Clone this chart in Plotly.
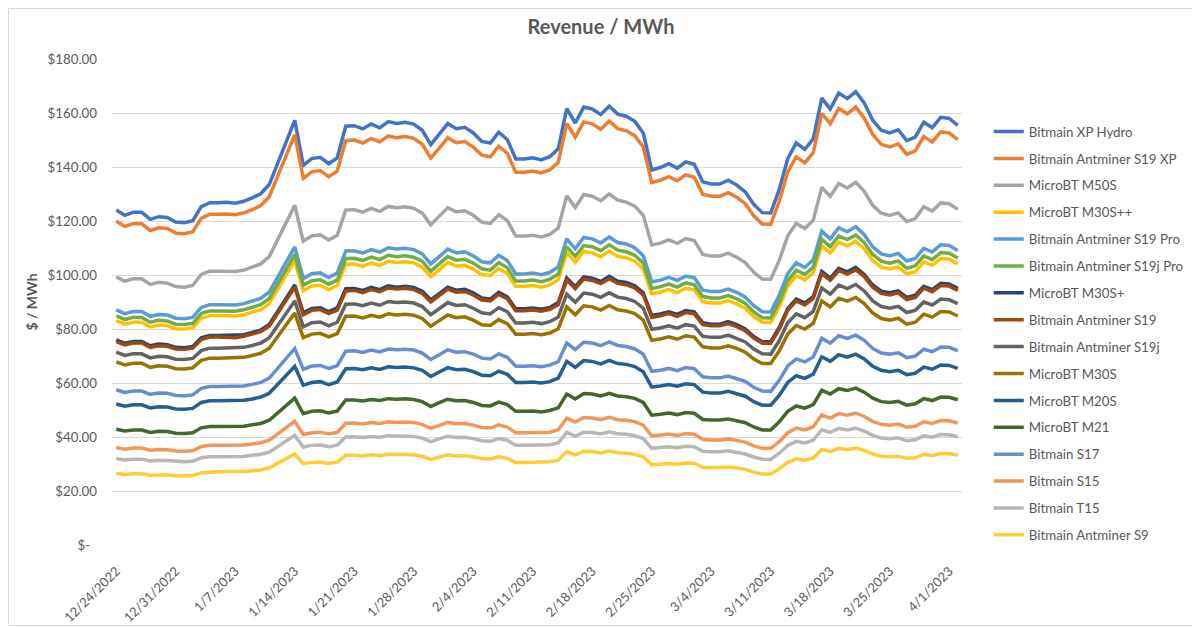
import plotly.graph_objects as go
import pandas as pd

dates = pd.date_range("2022-12-24", "2023-04-02", freq="D")

names = [
    "Bitmain XP Hydro", "Bitmain Antminer S19 XP", "MicroBT M50S", "MicroBT M30S++",
    "Bitmain Antminer S19 Pro", "Bitmain Antminer S19j Pro", "MicroBT M30S+",
    "Bitmain Antminer S19", "Bitmain Antminer S19j", "MicroBT M30S", "MicroBT M20S",
    "MicroBT M21", "Bitmain S17", "Bitmain S15", "Bitmain T15", "Bitmain Antminer S9",
]

xp_hydro = [124.1,122.1,123.2,123.2,120.6,121.6,121.3,119.6,119.4,120.1,
            125.3,126.8,126.8,126.9,126.6,127.3,128.6,130.1,133.5,141.4,
            149.4,157.3,140.6,143.1,143.6,141.2,143.4,155.1,155.3,154.1,
            155.9,154.5,156.8,156.1,156.6,155.9,153.6,148.3,152.2,156.1,
            154.2,154.7,152.6,149.5,148.9,152.9,150.2,143.0,143.0,143.4,
            142.6,143.8,146.7,161.6,156.3,162.2,161.5,159.4,162.5,159.6,
            158.8,156.9,152.6,138.9,139.8,141.2,139.6,141.9,141.0,134.5,
            133.7,133.7,135.1,133.3,130.8,126.2,123.1,123.0,131.7,143.1,
            148.9,146.5,150.4,165.5,161.5,167.4,165.3,167.9,163.7,157.3,
            153.6,152.6,153.8,149.8,151.1,156.6,154.6,158.4,158.0,155.4]

s19_xp = [119.9,118.0,119.0,119.0,116.5,117.5,117.2,115.5,115.3,116.0,
          121.0,122.5,122.5,122.6,122.3,123.0,124.2,125.7,129.0,136.6,
          144.3,152.0,135.8,138.2,138.7,136.4,138.5,149.8,150.0,148.9,
          150.6,149.3,151.5,150.8,151.3,150.6,148.4,143.3,147.0,150.8,
          149.0,149.4,147.4,144.4,143.8,147.7,145.1,138.1,138.1,138.5,
          137.8,138.9,141.7,156.1,151.0,156.7,156.0,154.0,157.0,154.2,
          153.4,151.6,147.4,134.2,135.1,136.4,134.9,137.1,136.2,129.9,
          129.2,129.2,130.5,128.8,126.4,121.9,118.9,118.8,127.2,138.2,
          143.8,141.5,145.3,159.9,156.0,161.7,159.7,162.2,158.1,152.0,
          148.4,147.4,148.6,144.7,146.0,151.3,149.3,153.0,152.6,150.1]

m50s = [99.3,97.7,98.6,98.6,96.5,97.3,97.0,95.7,95.5,96.1,
        100.2,101.4,101.4,101.5,101.3,101.8,102.9,104.1,106.8,113.1,
        119.5,125.8,112.5,114.5,114.9,113.0,114.7,124.1,124.2,123.3,
        124.7,123.6,125.4,124.9,125.3,124.7,122.9,118.6,121.8,124.9,
        123.4,123.8,122.1,119.6,119.1,122.3,120.2,114.4,114.4,114.7,
        114.1,115.0,117.4,129.3,125.0,129.8,129.2,127.5,130.0,127.7,
        127.0,125.5,122.1,111.1,111.8,113.0,111.7,113.5,112.8,107.6,
        107.0,107.0,108.1,106.6,104.6,101.0,98.5,98.4,105.4,114.5,
        119.1,117.2,120.3,132.4,129.2,133.9,132.2,134.3,131.0,125.8,
        122.9,122.1,123.0,119.8,120.9,125.3,123.7,126.7,126.4,124.3]

m30s_pp = [83.1,81.8,82.5,82.5,80.8,81.5,81.3,80.1,80.0,80.5,
           84.0,85.0,85.0,85.0,84.8,85.3,86.2,87.2,89.4,94.7,
           100.1,105.4,94.2,95.9,96.2,94.6,96.1,103.9,104.1,103.2,
           104.5,103.5,105.1,104.6,104.9,104.5,102.9,99.4,102.0,104.6,
           103.3,103.6,102.2,100.2,99.8,102.4,100.6,95.8,95.8,96.1,
           95.5,96.3,98.3,108.3,104.7,108.7,108.2,106.8,108.9,106.9,
           106.4,105.1,102.2,93.1,93.7,94.6,93.5,95.1,94.5,90.1,
           89.6,89.6,90.5,89.3,87.6,84.6,82.5,82.4,88.2,95.9,
           99.8,98.2,100.8,110.9,108.2,112.2,110.8,112.5,109.7,105.4,
           102.9,102.2,103.0,100.4,101.2,104.9,103.6,106.1,105.9,104.1]

s19_pro = [87.1,85.7,86.5,86.5,84.7,85.4,85.2,84.0,83.8,84.3,
           88.0,89.0,89.0,89.1,88.9,89.4,90.3,91.3,93.7,99.3,
           104.9,110.4,98.7,100.5,100.8,99.1,100.7,108.9,109.0,108.2,
           109.4,108.5,110.1,109.6,109.9,109.4,107.8,104.1,106.8,109.6,
           108.2,108.6,107.1,104.9,104.5,107.3,105.4,100.4,100.4,100.7,
           100.1,100.9,103.0,113.4,109.7,113.9,113.4,111.9,114.1,112.0,
           111.5,110.1,107.1,97.5,98.1,99.1,98.0,99.6,99.0,94.4,
           93.9,93.9,94.8,93.6,91.8,88.6,86.4,86.3,92.5,100.5,
           104.5,102.8,105.6,116.2,113.4,117.5,116.0,117.9,114.9,110.4,
           107.8,107.1,108.0,105.2,106.1,109.9,108.5,111.2,110.9,109.1]

s19j_pro = [84.9,83.5,84.3,84.3,82.5,83.2,83.0,81.8,81.7,82.1,
            85.7,86.7,86.7,86.8,86.6,87.1,88.0,89.0,91.3,96.7,
            102.2,107.6,96.2,97.9,98.2,96.6,98.1,106.1,106.2,105.4,
            106.6,105.7,107.3,106.8,107.1,106.6,105.1,101.4,104.1,106.8,
            105.5,105.8,104.4,102.3,101.8,104.6,102.7,97.8,97.8,98.1,
            97.5,98.4,100.3,110.5,106.9,110.9,110.5,109.0,111.2,109.2,
            108.6,107.3,104.4,95.0,95.6,96.6,95.5,97.1,96.4,92.0,
            91.5,91.5,92.4,91.2,89.5,86.3,84.2,84.1,90.1,97.9,
            101.8,100.2,102.9,113.2,110.5,114.5,113.1,114.8,112.0,107.6,
            105.1,104.4,105.2,102.5,103.4,107.1,105.7,108.3,108.1,106.3]

m30s_p = [76.0,74.7,75.4,75.4,73.8,74.4,74.2,73.2,73.1,73.5,
          76.7,77.6,77.6,77.7,77.5,77.9,78.7,79.6,81.7,86.5,
          91.4,96.3,86.0,87.6,87.9,86.4,87.8,94.9,95.0,94.3,
          95.4,94.6,96.0,95.5,95.8,95.4,94.0,90.8,93.1,95.5,
          94.4,94.7,93.4,91.5,91.1,93.6,91.9,87.5,87.5,87.8,
          87.3,88.0,89.8,98.9,95.7,99.3,98.8,97.6,99.5,97.7,
          97.2,96.0,93.4,85.0,85.6,86.4,85.4,86.8,86.3,82.3,
          81.8,81.8,82.7,81.6,80.0,77.2,75.3,75.3,80.6,87.6,
          91.1,89.7,92.0,101.3,98.8,102.5,101.2,102.8,100.2,96.3,
          94.0,93.4,94.1,91.7,92.5,95.8,94.6,96.9,96.7,95.1]

s19 = [75.3,74.1,74.8,74.8,73.2,73.8,73.6,72.6,72.5,72.9,
       76.1,77.0,77.0,77.0,76.8,77.3,78.1,79.0,81.0,85.8,
       90.7,95.5,85.3,86.9,87.2,85.7,87.0,94.1,94.3,93.5,
       94.6,93.8,95.2,94.8,95.1,94.6,93.2,90.0,92.4,94.8,
       93.6,93.9,92.6,90.7,90.4,92.8,91.2,86.8,86.8,87.0,
       86.6,87.3,89.0,98.1,94.9,98.5,98.0,96.8,98.6,96.9,
       96.4,95.2,92.6,84.3,84.9,85.7,84.7,86.1,85.6,81.6,
       81.2,81.2,82.0,80.9,79.4,76.6,74.7,74.7,79.9,86.9,
       90.4,88.9,91.3,100.5,98.0,101.6,100.3,101.9,99.4,95.5,
       93.2,92.6,93.4,90.9,91.7,95.1,93.8,96.1,95.9,94.3]

s19j = [71.4,70.2,70.8,70.8,69.3,69.9,69.7,68.8,68.7,69.1,
        72.0,72.9,72.9,73.0,72.8,73.2,73.9,74.8,76.8,81.3,
        85.9,90.4,80.8,82.3,82.6,81.2,82.5,89.2,89.3,88.6,
        89.6,88.8,90.2,89.8,90.0,89.6,88.3,85.3,87.5,89.8,
        88.7,89.0,87.7,86.0,85.6,87.9,86.4,82.2,82.2,82.5,
        82.0,82.7,84.4,92.9,89.9,93.3,92.9,91.7,93.4,91.8,
        91.3,90.2,87.7,79.9,80.4,81.2,80.3,81.6,81.1,77.3,
        76.9,76.9,77.7,76.6,75.2,72.6,70.8,70.7,75.7,82.3,
        85.6,84.2,86.5,95.2,92.9,96.3,95.0,96.5,94.1,90.4,
        88.3,87.7,88.4,86.1,86.9,90.0,88.9,91.1,90.8,89.4]

m30s = [67.8,66.7,67.3,67.3,65.8,66.4,66.2,65.3,65.2,65.6,
        68.4,69.2,69.2,69.3,69.1,69.5,70.2,71.0,72.9,77.2,
        81.6,85.9,76.8,78.1,78.4,77.1,78.3,84.7,84.8,84.1,
        85.1,84.4,85.6,85.2,85.5,85.1,83.9,81.0,83.1,85.2,
        84.2,84.5,83.3,81.6,81.3,83.5,82.0,78.1,78.1,78.3,
        77.9,78.5,80.1,88.2,85.3,88.6,88.2,87.0,88.7,87.1,
        86.7,85.7,83.3,75.8,76.3,77.1,76.2,77.5,77.0,73.4,
        73.0,73.0,73.8,72.8,71.4,68.9,67.2,67.2,71.9,78.1,
        81.3,80.0,82.1,90.4,88.2,91.4,90.3,91.7,89.4,85.9,
        83.9,83.3,84.0,81.8,82.5,85.5,84.4,86.5,86.3,84.8]

m20s = [52.2,51.4,51.9,51.9,50.8,51.2,51.1,50.4,50.3,50.6,
        52.8,53.4,53.4,53.4,53.3,53.6,54.1,54.8,56.2,59.5,
        62.9,66.2,59.2,60.2,60.5,59.4,60.4,65.3,65.4,64.9,
        65.6,65.0,66.0,65.7,65.9,65.6,64.7,62.4,64.1,65.7,
        64.9,65.1,64.2,62.9,62.7,64.4,63.2,60.2,60.2,60.4,
        60.0,60.5,61.8,68.0,65.8,68.3,68.0,67.1,68.4,67.2,
        66.9,66.1,64.2,58.5,58.9,59.4,58.8,59.7,59.4,56.6,
        56.3,56.3,56.9,56.1,55.1,53.1,51.8,51.8,55.4,60.2,
        62.7,61.7,63.3,69.7,68.0,70.5,69.6,70.7,68.9,66.2,
        64.7,64.2,64.7,63.1,63.6,65.9,65.1,66.7,66.5,65.4]

m21 = [42.9,42.2,42.6,42.6,41.7,42.1,42.0,41.4,41.3,41.6,
       43.4,43.9,43.9,43.9,43.8,44.0,44.5,45.0,46.2,48.9,
       51.7,54.4,48.6,49.5,49.7,48.9,49.6,53.7,53.7,53.3,
       53.9,53.5,54.2,54.0,54.2,53.9,53.1,51.3,52.7,54.0,
       53.4,53.5,52.8,51.7,51.5,52.9,52.0,49.5,49.5,49.6,
       49.3,49.8,50.8,55.9,54.1,56.1,55.9,55.2,56.2,55.2,
       54.9,54.3,52.8,48.1,48.4,48.9,48.3,49.1,48.8,46.5,
       46.3,46.3,46.7,46.1,45.3,43.7,42.6,42.6,45.6,49.5,
       51.5,50.7,52.0,57.3,55.9,57.9,57.2,58.1,56.6,54.4,
       53.1,52.8,53.2,51.8,52.3,54.2,53.5,54.8,54.7,53.8]

s17 = [57.5,56.5,57.0,57.0,55.8,56.3,56.2,55.4,55.3,55.6,
       58.0,58.7,58.7,58.8,58.6,58.9,59.5,60.2,61.8,65.5,
       69.2,72.8,65.1,66.3,66.5,65.4,66.4,71.8,71.9,71.3,
       72.2,71.5,72.6,72.3,72.5,72.2,71.1,68.7,70.5,72.3,
       71.4,71.6,70.7,69.2,68.9,70.8,69.5,66.2,66.2,66.4,
       66.0,66.6,67.9,74.8,72.4,75.1,74.8,73.8,75.2,73.9,
       73.5,72.6,70.7,64.3,64.7,65.4,64.6,65.7,65.3,62.3,
       61.9,61.9,62.6,61.7,60.6,58.4,57.0,56.9,61.0,66.3,
       68.9,67.8,69.6,76.6,74.8,77.5,76.5,77.7,75.8,72.8,
       71.1,70.7,71.2,69.4,70.0,72.5,71.6,73.3,73.2,71.9]

s15 = [36.1,35.5,35.9,35.9,35.1,35.4,35.3,34.8,34.7,34.9,
       36.5,36.9,36.9,36.9,36.8,37.0,37.4,37.9,38.8,41.1,
       43.5,45.8,40.9,41.6,41.8,41.1,41.7,45.1,45.2,44.8,
       45.4,45.0,45.6,45.4,45.6,45.4,44.7,43.2,44.3,45.4,
       44.9,45.0,44.4,43.5,43.3,44.5,43.7,41.6,41.6,41.7,
       41.5,41.8,42.7,47.0,45.5,47.2,47.0,46.4,47.3,46.4,
       46.2,45.7,44.4,40.4,40.7,41.1,40.6,41.3,41.0,39.1,
       38.9,38.9,39.3,38.8,38.1,36.7,35.8,35.8,38.3,41.6,
       43.3,42.6,43.8,48.2,47.0,48.7,48.1,48.9,47.6,45.8,
       44.7,44.4,44.8,43.6,44.0,45.6,45.0,46.1,46.0,45.2]

t15 = [32.0,31.5,31.8,31.8,31.1,31.4,31.3,30.9,30.8,31.0,
       32.3,32.7,32.7,32.7,32.7,32.8,33.2,33.6,34.4,36.5,
       38.5,40.6,36.3,36.9,37.0,36.4,37.0,40.0,40.1,39.8,
       40.2,39.9,40.5,40.3,40.4,40.2,39.6,38.3,39.3,40.3,
       39.8,39.9,39.4,38.6,38.4,39.4,38.8,36.9,36.9,37.0,
       36.8,37.1,37.8,41.7,40.3,41.8,41.7,41.1,41.9,41.2,
       41.0,40.5,39.4,35.8,36.1,36.4,36.0,36.6,36.4,34.7,
       34.5,34.5,34.9,34.4,33.7,32.6,31.8,31.7,34.0,36.9,
       38.4,37.8,38.8,42.7,41.7,43.2,42.6,43.3,42.2,40.6,
       39.6,39.4,39.7,38.6,39.0,40.4,39.9,40.9,40.8,40.1]

s9 = [26.6,26.1,26.4,26.4,25.8,26.0,26.0,25.6,25.6,25.7,
      26.8,27.1,27.1,27.2,27.1,27.2,27.5,27.8,28.6,30.3,
      32.0,33.7,30.1,30.6,30.7,30.2,30.7,33.2,33.2,33.0,
      33.4,33.1,33.6,33.4,33.5,33.4,32.9,31.7,32.6,33.4,
      33.0,33.1,32.7,32.0,31.9,32.7,32.1,30.6,30.6,30.7,
      30.5,30.8,31.4,34.6,33.4,34.7,34.6,34.1,34.8,34.2,
      34.0,33.6,32.7,29.7,29.9,30.2,29.9,30.4,30.2,28.8,
      28.6,28.6,28.9,28.5,28.0,27.0,26.3,26.3,28.2,30.6,
      31.9,31.4,32.2,35.4,34.6,35.8,35.4,35.9,35.0,33.7,
      32.9,32.7,32.9,32.1,32.3,33.5,33.1,33.9,33.8,33.3]

series = [xp_hydro, s19_xp, m50s, m30s_pp, s19_pro, s19j_pro, m30s_p, s19,
          s19j, m30s, m20s, m21, s17, s15, t15, s9]

colors = ["#4472C4", "#ED7D31", "#A5A5A5", "#FFC000", "#5B9BD5", "#70AD47",
          "#264478", "#9E480E", "#636363", "#997300", "#255E91", "#43682B",
          "#698ED0", "#F1975A", "#B7B7B7", "#FFCD33"]

y_ticks = [0, 20, 40, 60, 80, 100, 120, 140, 160, 180]
y_labels = ["$-\u00a0\u00a0"] + [f"${v:.2f}" for v in y_ticks[1:]]
Y_MAX = 180
X_RANGE = ["2022-12-23 12:00", "2023-04-02 12:00"]

FONT = "Lato, 'Open Sans', sans-serif"
GREY = "#595959"
GRID = "#D9D9D9"

# page body has an 8px margin: figure is sized/offset to compensate
W, H = 1192, 619
ML, MR, MT, MB = 104, 238, 51, 82
PW, PH = W - ML - MR, H - MT - MB

fig = go.Figure()
for name, vals, col in zip(names, series, colors):
    fig.add_trace(go.Scatter(
        x=dates, y=vals, name=name, mode="lines",
        line=dict(color=col, width=3.5), legendgroup=name,
        hoverinfo="skip",
    ))

border = dict(type="rect", xref="paper", yref="paper",
              x0=-(ML - 0.5) / PW, x1=(W - 1.5 - ML) / PW,
              y0=-(MB - 1.5) / PH, y1=(MT - 0.5) / PH + 1,
              line=dict(color=GRID, width=1), fillcolor="rgba(0,0,0,0)")

fig.update_layout(
    width=W, height=H,
    margin=dict(l=ML, r=MR, t=MT, b=MB, autoexpand=False),
    paper_bgcolor="white", plot_bgcolor="white",
    font=dict(family=FONT, color=GREY, size=13),
    title=dict(text="<b>Revenue / MWh</b>", x=593 / W, xref="container",
               y=1 - 19 / H, yref="container", yanchor="middle",
               xanchor="center", font=dict(size=20, color=GREY, family=FONT)),
    showlegend=True,
    legend=dict(x=1.0315, xanchor="left", y=0.882, yanchor="top",
                traceorder="grouped", tracegroupgap=6.6,
                font=dict(size=13.3, color=GREY, family=FONT),
                bgcolor="rgba(0,0,0,0)"),
    xaxis=dict(
        type="date", range=X_RANGE,
        tick0="2022-12-24", dtick=7 * 24 * 3600 * 1000,
        tickformat="%-m/%-d/%Y", tickangle=-45,
        showgrid=False, zeroline=False, showline=False,
        ticks="", ticklabelstandoff=15,
        tickfont=dict(size=13, color=GREY, family=FONT),
    ),
    yaxis=dict(
        range=[0, Y_MAX], tickmode="array", tickvals=y_ticks, ticktext=y_labels,
        showgrid=True, gridcolor=GRID, gridwidth=1,
        zeroline=False, showline=False, ticks="", ticklabelstandoff=14,
        tickfont=dict(size=13.3, color=GREY, family=FONT),
        title=dict(text="<b>$ / MWh</b>", standoff=6,
                   font=dict(size=14, color=GREY, family=FONT)),
    ),
    shapes=[border],
)

fig.write_html("out.html")
